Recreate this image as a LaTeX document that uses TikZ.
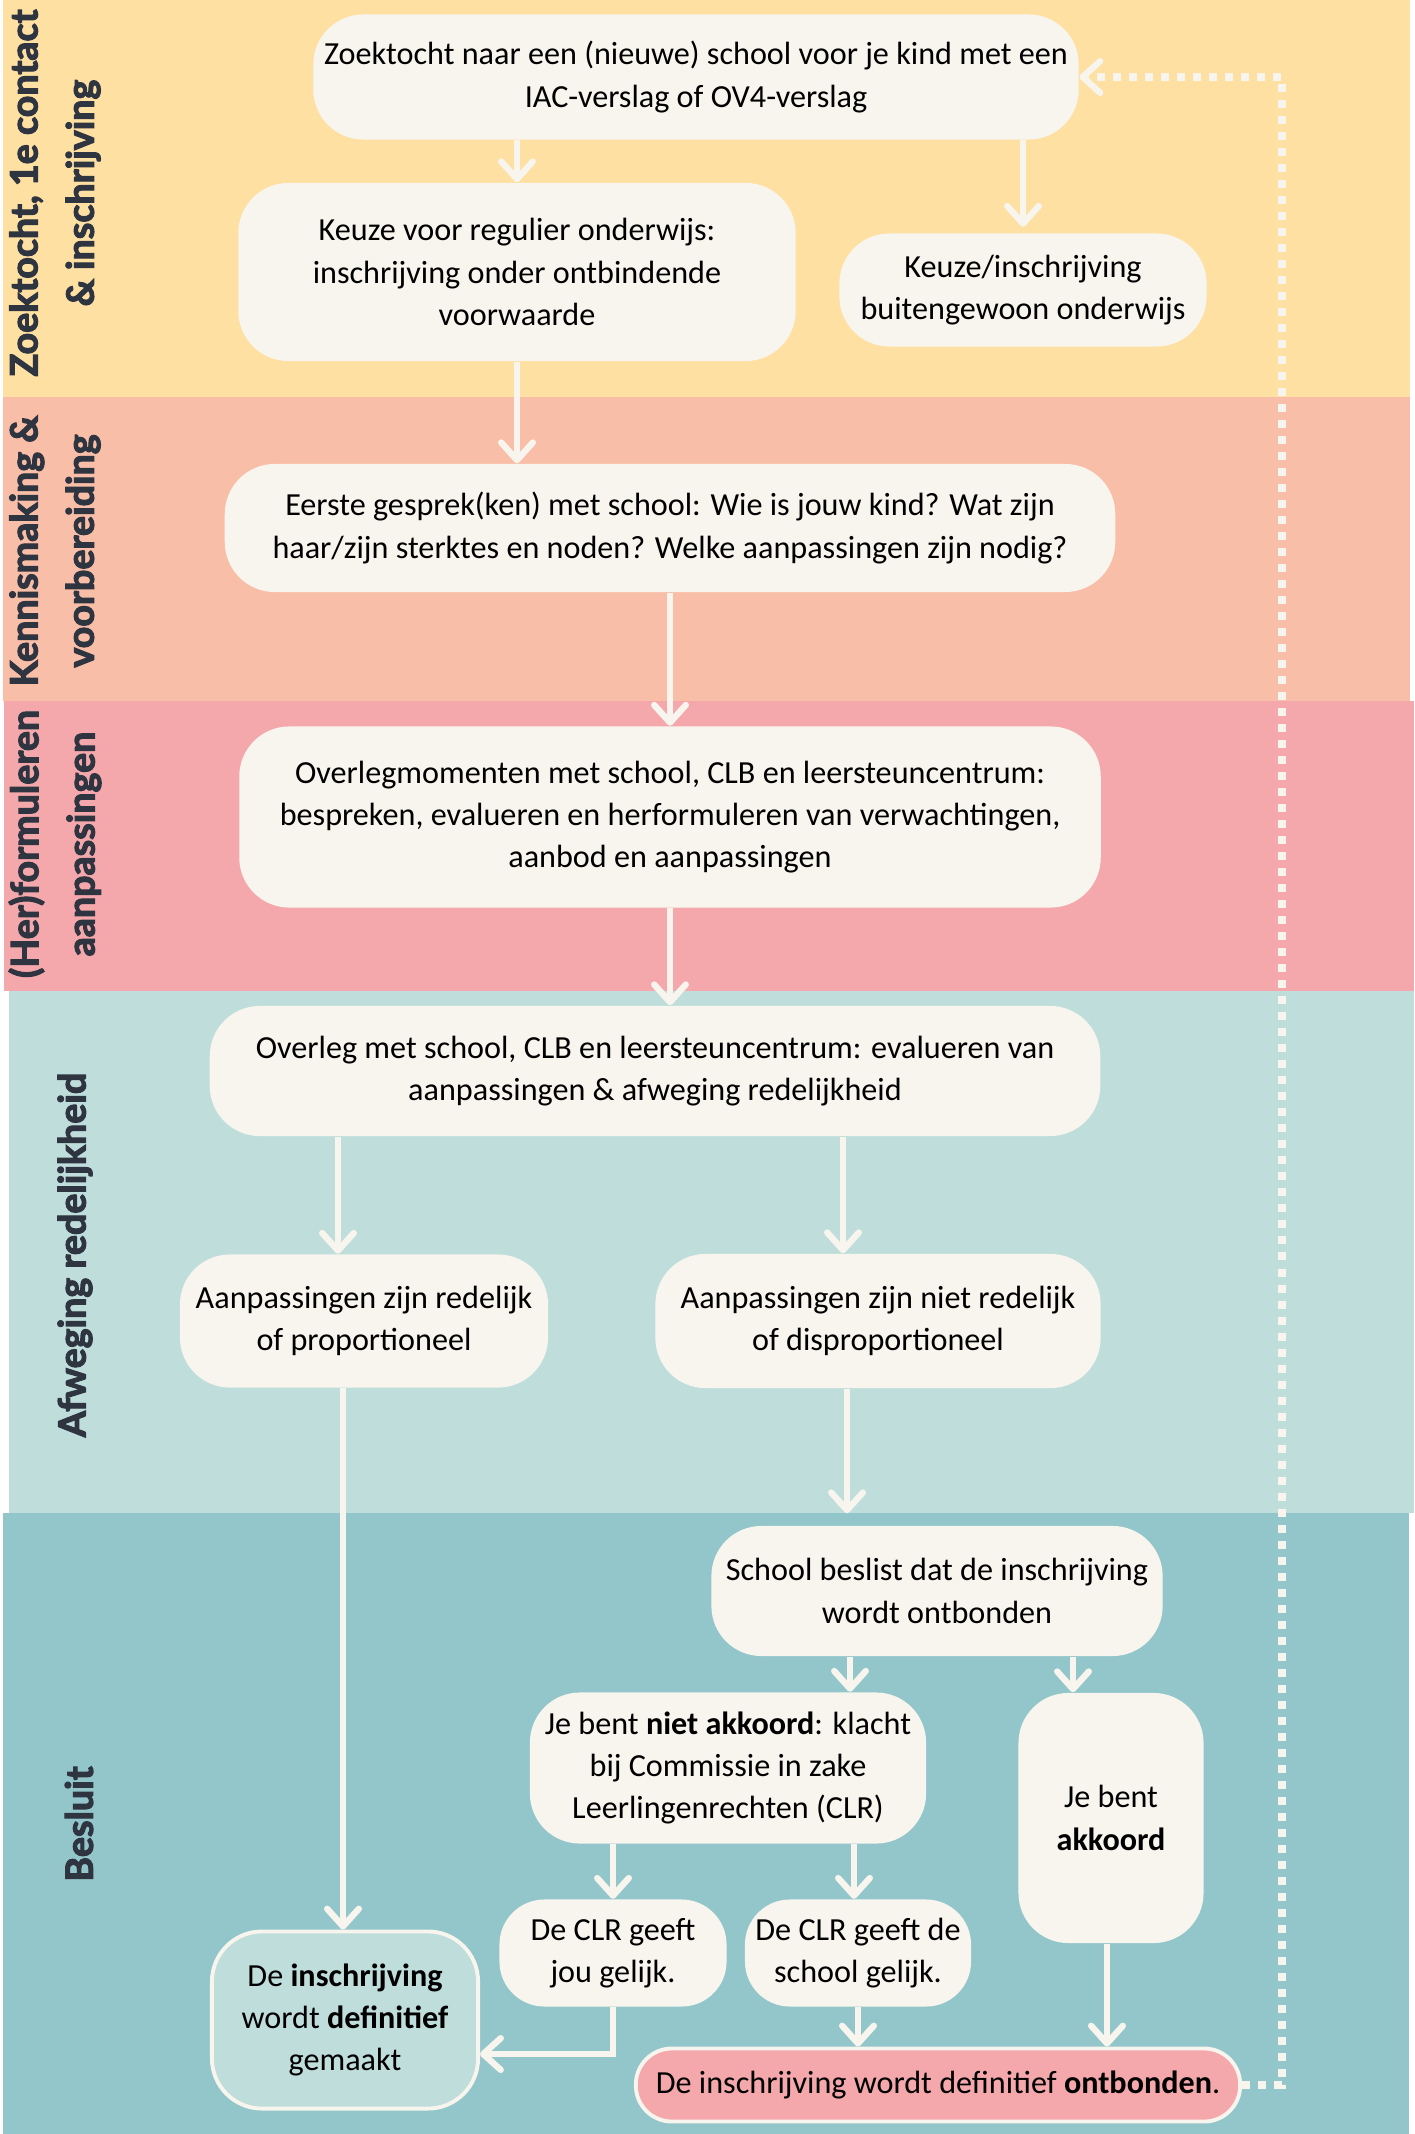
\documentclass[tikz,border=0pt]{standalone}
\usepackage{fontspec}
\setmainfont{Carlito}
\newfontfamily\fasefont{Lato}[BoldFeatures={FakeBold=3}]
\usetikzlibrary{arrows.meta}

\definecolor{geel}{HTML}{FFE0A3}
\definecolor{zalm}{HTML}{F9BEA7}
\definecolor{roze}{HTML}{F4A8AC}
\definecolor{lichtblauw}{HTML}{BFDDDB}
\definecolor{blauw}{HTML}{93C6CA}
\definecolor{creme}{HTML}{F8F5EE}
\definecolor{donker}{HTML}{2E3440}

\tikzset{
  stap/.style={fill=creme, rounded corners=0.5cm, align=center, inner sep=0pt,
    font=\fontsize{9.15}{12}\selectfont},
  fase/.style={rotate=90, align=center, text=donker,
    font=\fasefont\bfseries\fontsize{10.7}{16}\selectfont},
  pijl/.style={draw=creme, line width=1.8pt,
    -{Straight Barb[length=5pt,width=9pt,round]}},
  stippel/.style={draw=creme, line width=0.08cm, dash pattern=on 0.08cm off 0.08cm,
    -{Straight Barb[length=5pt,width=9pt,round,line width=1.8pt]}}
}

\begin{document}
\begin{tikzpicture}[x=0.01cm,y=-0.01cm]
  \useasboundingbox (0,0) rectangle (1414,2134);
  \fill[white] (0,0) rectangle (1414,2134);

  % banden
  \foreach \kleur/\links/\boven/\rechts/\onder in {geel/3/0/1410/397, zalm/3/397/1410/701,
      roze/4/701/1414/991, lichtblauw/9/991/1414/1513, blauw/3/1513/1409/2134} {
    \fill[\kleur] (\links,\boven) rectangle (\rechts,\onder);
  }

  \node[fase] (fase1) at (55,193) {Zoektocht, 1e contact\\\& inschrijving};
  \node[fase] (fase2) at (55,551) {Kennismaking \&\\voorbereiding};
  \node[fase] (fase3) at (55,844) {(Her)formuleren\\aanpassingen};
  \node[fase] (fase4) at (75,1255) {Afweging redelijkheid};
  \node[fase] (fase5) at (79,1824) {Besluit};

  % stappen
  \node[stap, minimum width=7.65cm, minimum height=1.25cm] (zoek) at (696,77)
    {Zoektocht naar een (nieuwe) school voor je kind met een\\IAC-verslag of OV4-verslag};
  \node[stap, minimum width=5.57cm, minimum height=1.78cm] (regulier) at (517,272)
    {Keuze voor regulier onderwijs:\\inschrijving onder ontbindende\\voorwaarde};
  \node[stap, minimum width=3.67cm, minimum height=1.13cm] (buiten) at (1023,290)
    {Keuze/inschrijving\\buitengewoon onderwijs};
  \node[stap, minimum width=8.9cm, minimum height=1.28cm] (gesprek) at (670,528)
    {Eerste gesprek(ken) met school: Wie is jouw kind? Wat zijn\\haar/zijn sterktes en noden? Welke aanpassingen zijn nodig?};
  \node[stap, minimum width=8.61cm, minimum height=1.81cm] (momenten) at (670,817)
    {Overlegmomenten met school, CLB en leersteuncentrum:\\bespreken, evalueren en herformuleren van verwachtingen,\\aanbod en aanpassingen};
  \node[stap, minimum width=8.9cm, minimum height=1.3cm] (overleg) at (655,1071)
    {Overleg met school, CLB en leersteuncentrum: evalueren van\\aanpassingen \& afweging redelijkheid};
  \node[stap, minimum width=3.68cm, minimum height=1.33cm] (redelijk) at (364,1321)
    {Aanpassingen zijn redelijk\\of proportioneel};
  \node[stap, minimum width=4.45cm, minimum height=1.34cm] (nietredelijk) at (878,1321)
    {Aanpassingen zijn niet redelijk\\of disproportioneel};
  \node[stap, minimum width=4.51cm, minimum height=1.3cm] (beslist) at (937,1591)
    {School beslist dat de inschrijving\\wordt ontbonden};
  \node[stap, minimum width=3.96cm, minimum height=1.51cm] (nietakkoord) at (728,1768)
    {Je bent \textbf{niet akkoord}: klacht\\bij Commissie in zake\\Leerlingenrechten (CLR)};
  \node[stap, minimum width=1.85cm, minimum height=2.5cm] (akkoord) at (1111,1818)
    {Je bent\\\textbf{akkoord}};
  \node[stap, rounded corners=0.45cm, minimum width=2.27cm, minimum height=1.07cm] (jou) at (613,1953)
    {De CLR geeft\\jou gelijk.};
  \node[stap, rounded corners=0.45cm, minimum width=2.26cm, minimum height=1.07cm] (schoolgelijk) at (858,1953)
    {De CLR geeft de\\school gelijk.};
  \node[stap, draw=creme, line width=1.1pt, fill=lichtblauw, minimum width=2.66cm,
    minimum height=1.77cm] (gemaakt) at (345,2020)
    {De \textbf{inschrijving}\\wordt \textbf{definitief}\\gemaakt};
  \node[stap, draw=creme, line width=1.1pt, fill=roze, rounded corners=0.36cm,
    minimum width=6.04cm, minimum height=0.73cm] (ontbonden) at (938,2085)
    {De inschrijving wordt definitief \textbf{ontbonden}.};

  % pijlen
  \draw[pijl] (zoek.south -| regulier) -- (regulier.north);
  \draw[pijl] (zoek.south -| buiten) -- ([yshift=0.06cm]buiten.north);
  \draw[pijl] (regulier.south) -- (regulier.south |- gesprek.north);
  \draw[pijl] (gesprek.south) -- (gesprek.south |- momenten.north);
  \draw[pijl] (momenten.south) -- (momenten.south |- overleg.north);
  \draw[pijl] (overleg.south -| 338,0) -- (redelijk.north -| 338,0);
  \draw[pijl] (overleg.south -| 843,0) -- (nietredelijk.north -| 843,0);
  \draw[pijl] (nietredelijk.south -| 847,0) -- ([yshift=0.12cm]beslist.north -| 847,0);
  \draw[pijl] (redelijk.south -| 343,0) -- (gemaakt.north -| 343,0);
  \draw[pijl] (beslist.south -| 850,0) -- (nietakkoord.north -| 850,0);
  \draw[pijl] (beslist.south -| 1073,0) -- (akkoord.north -| 1073,0);
  \draw[pijl] (nietakkoord.south -| jou) -- (jou.north);
  \draw[pijl] (nietakkoord.south -| 854,0) -- (schoolgelijk.north -| 854,0);
  \draw[pijl] (jou.south) |- ([yshift=-0.34cm]gemaakt.east);
  \draw[pijl] (schoolgelijk.south) -- (schoolgelijk.south |- ontbonden.north);
  \draw[pijl] (akkoord.south -| 1107,0) -- (ontbonden.north -| 1107,0);
  \draw[stippel] (ontbonden.east) -- ++(40,0) |- (zoek.east);
\end{tikzpicture}
\end{document}
